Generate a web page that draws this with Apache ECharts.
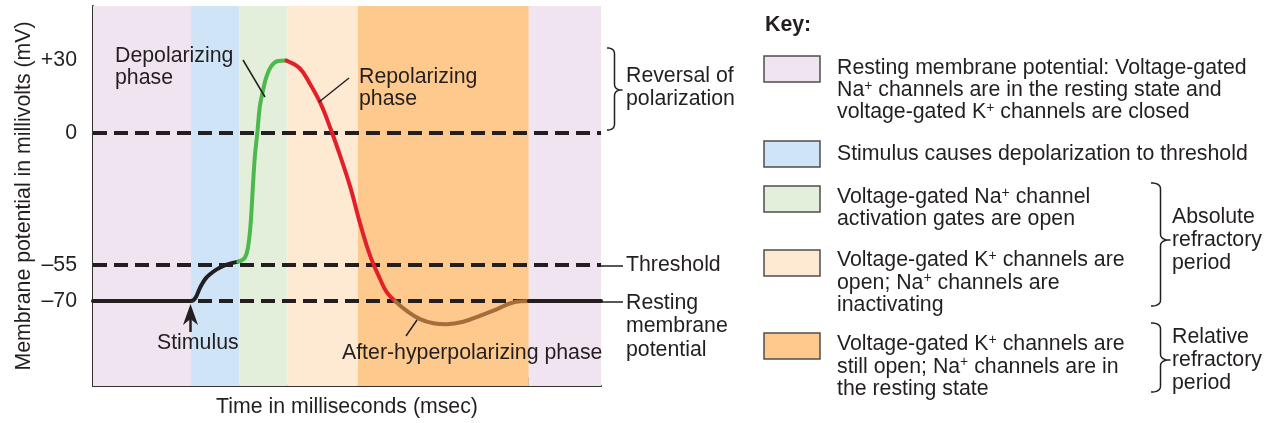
<!DOCTYPE html>
<html>
<head>
<meta charset="utf-8">
<script src="https://cdn.jsdelivr.net/npm/echarts@6.0.0/dist/echarts.min.js"></script>
<style>
html,body{margin:0;padding:0;background:#ffffff;}
#chart{width:1265px;height:423px;}
</style>
</head>
<body>
<div id="chart"></div>
<script>
// ---------------- DATA ----------------
// Y axis (membrane potential, mV)
const yTickValues = [30, 0, -55, -70];
const yTickLabels = ['+30', '0', '–55', '–70'];
const referenceLevels = [0, -55, -70];
// X axis (time, ms) tick positions
const xTickValues = [1, 3, 5];
// Phase bands (time edges) and which key entry each band belongs to
const bandEdges = [-0.25, 0.93, 1.51, 2.09, 2.94, 5.0, 5.87];
const bandPhase = [0, 1, 2, 3, 4, 0];
// Curve segments
const restT = [-0.25, 0.93, 0.98, 1.04, 1.10, 1.16, 1.24, 1.32, 1.40, 1.50];
const restV = [-70, -70, -68.9, -64.4, -60.9, -58.8, -56.8, -55.4, -54.4, -53.6];
const depolT = [1.50, 1.58, 1.62, 1.65, 1.674, 1.70, 1.73, 1.76, 1.80, 1.84, 1.90, 1.98, 2.08];
const depolV = [-53.6, -51.9, -47.1, -37.4, -23.6, -9.8, 0.1, 10.9, 17.8, 23.3, 27.8, 29.8, 30];
const repolT = [2.08, 2.24, 2.36, 2.49, 2.61, 2.73, 2.85, 2.97, 3.09, 3.21, 3.29, 3.39];
const repolV = [30, 26.8, 20.6, 12.3, 1.9, -9.8, -22.6, -38.0, -51.3, -60.9, -66.4, -70];
const hyperT = [3.39, 3.53, 3.69, 3.85, 4.01, 4.21, 4.41, 4.61, 4.81, 5.00];
const hyperV = [-70, -74.1, -77.5, -79.2, -79.6, -78.6, -76.1, -73.4, -70.6, -70];
const recoveryT = [5.00, 5.87];
const recoveryV = [-70, -70];
// Texts
const xAxisName = 'Time in milliseconds (msec)';
const yAxisName = 'Membrane potential in millivolts (mV)';
const keyTitle = 'Key:';
const keyTexts = [
  'Resting membrane potential: Voltage-gated\nNa{sup|+} channels are in the resting state and\nvoltage-gated K{sup|+} channels are closed',
  'Stimulus causes depolarization to threshold',
  'Voltage-gated Na{sup|+} channel\nactivation gates are open',
  'Voltage-gated K{sup|+} channels are\nopen; Na{sup|+} channels are\ninactivating',
  'Voltage-gated K{sup|+} channels are\nstill open; Na{sup|+} channels are in\nthe resting state'
];
const periodTexts = ['Absolute\nrefractory\nperiod', 'Relative\nrefractory\nperiod'];

// ---------------- STYLE ----------------
const FONT = '"Liberation Sans", Arial, Helvetica, sans-serif';
const FS = 21.3;
const INK = '#231f20';
const phaseColors = ['#EFE4F0', '#CFE5F7', '#E3EFDB', '#FEE9D2', '#FDC98C'];

const zip = (t, v) => t.map((x, i) => [x, v[i]]);

function curve(name, t, v, color) {
  return {
    name, type: 'line', data: zip(t, v), z: 5,
    symbol: 'none', showSymbol: false, smooth: 0.4,
    lineStyle: { color, width: 4, cap: 'round', join: 'round' },
    silent: true, animation: false
  };
}

const bandAreas = bandPhase.map((p, i) => [
  { xAxis: bandEdges[i], itemStyle: { color: phaseColors[p] } },
  { xAxis: bandEdges[i + 1] }
]);

function txt(x, y, text, extra) {
  return {
    type: 'text', x, y, silent: true, z: 10,
    style: Object.assign({
      text, fontSize: FS, fontFamily: FONT, fill: INK, lineHeight: 22,
      align: 'left', verticalAlign: 'top', textAlign: 'left', textVerticalAlign: 'top',
      rich: { sup: { fontSize: 14, fontFamily: FONT, fill: INK, verticalAlign: 'top', lineHeight: 12 } }
    }, extra || {})
  };
}
function seg(x1, y1, x2, y2, w) {
  return { type: 'line', silent: true, z: 10,
    shape: { x1, y1, x2, y2 }, style: { stroke: INK, lineWidth: w || 1.5 } };
}
// curly brace as a sampled polyline
function quad(p0, c, p1, n) {
  const out = [];
  for (let i = 1; i <= n; i++) {
    const t = i / n, a = (1 - t) * (1 - t), b = 2 * (1 - t) * t, d = t * t;
    out.push([a * p0[0] + b * c[0] + d * p1[0], a * p0[1] + b * c[1] + d * p1[1]]);
  }
  return out;
}
function brace(x0, yTop, yBot, yMid, w) {
  const xs = x0 + w * 0.5, xt = x0 + w, r = 6;
  let pts = [[x0, yTop]];
  pts = pts.concat(quad([x0, yTop], [xs, yTop], [xs, yTop + r], 8));
  pts.push([xs, yMid - r]);
  pts = pts.concat(quad([xs, yMid - r], [xs, yMid], [xt, yMid], 8));
  pts = pts.concat(quad([xt, yMid], [xs, yMid], [xs, yMid + r], 8));
  pts.push([xs, yBot - r]);
  pts = pts.concat(quad([xs, yBot - r], [xs, yBot], [x0, yBot], 8));
  return { type: 'polyline', silent: true, z: 10, shape: { points: pts },
    style: { stroke: INK, lineWidth: 1.5, fill: null, lineJoin: 'round' } };
}

const keyBoxTops = [56, 141, 186, 250, 333];
const keyTextTops = [57, 143, 186, 249, 333];

const graphics = [
  // chart annotations
  txt(115, 45, 'Depolarizing\nphase'),
  seg(243, 60, 265, 97),
  txt(359, 66, 'Repolarizing\nphase'),
  seg(349, 78, 319, 102),
  txt(157, 332, 'Stimulus'),
  seg(190.5, 332, 190.5, 314, 2.5),
  { type: 'polygon', silent: true, z: 10,
    shape: { points: [[190.5, 304], [198, 325], [190.5, 319], [183, 325]] },
    style: { fill: INK } },
  txt(342, 342, 'After-hyperpolarizing phase'),
  seg(406, 336, 417, 320),
  brace(607, 48, 130, 90, 15),
  txt(626, 65, 'Reversal of\npolarization', { lineHeight: 23 }),
  seg(601, 266, 623, 266),
  txt(626, 254, 'Threshold'),
  seg(601, 302, 623, 302),
  txt(626, 291, 'Resting\nmembrane\npotential', { lineHeight: 23.5 }),
  // key
  txt(765, 14, keyTitle, { fontWeight: 'bold' }),
  brace(1151, 183, 306, 240, 19),
  txt(1172, 206, periodTexts[0], { lineHeight: 23 }),
  brace(1151, 323, 392, 360, 19),
  txt(1172, 326, periodTexts[1], { lineHeight: 23 })
];
keyTexts.forEach((t, i) => {
  graphics.push({ type: 'rect', silent: true, z: 10,
    shape: { x: 764, y: keyBoxTops[i], width: 56, height: 26 },
    style: { fill: phaseColors[i], stroke: '#4d4d4d', lineWidth: 1.5 } });
  graphics.push(txt(837, keyTextTops[i], t, { lineHeight: i >= 3 ? 22.5 : 22 }));
});

const chart = echarts.init(document.getElementById('chart'), null, { renderer: 'canvas' });
chart.setOption({
  animation: false,
  backgroundColor: '#ffffff',
  textStyle: { fontFamily: FONT },
  grid: { left: 93, right: 664, top: 6, bottom: 36, containLabel: false },
  xAxis: {
    type: 'value', min: -0.25, max: 5.87,
    name: xAxisName, nameLocation: 'middle', nameGap: 11,
    nameTextStyle: { fontSize: FS, color: INK, fontFamily: FONT },
    axisLine: { show: true, onZero: false, lineStyle: { color: '#333', width: 2 } },
    axisTick: { show: true, inside: true, length: 9, customValues: xTickValues, lineStyle: { color: '#333', width: 1.5 } },
    axisLabel: { show: false },
    splitLine: { show: false }
  },
  yAxis: {
    type: 'value', min: -105.3, max: 52.7,
    name: yAxisName, nameLocation: 'middle', nameGap: 58,
    nameTextStyle: { fontSize: FS, color: INK, fontFamily: FONT },
    axisLine: { show: true, onZero: false, lineStyle: { color: '#333', width: 2 } },
    axisTick: { show: true, inside: true, length: 8, customValues: [yTickValues[0]], lineStyle: { color: INK, width: 1.5 } },
    axisLabel: {
      show: true, customValues: yTickValues, margin: 16,
      fontSize: FS, color: INK, fontFamily: FONT,
      formatter: v => yTickLabels[yTickValues.indexOf(v)] ?? ''
    },
    splitLine: { show: false }
  },
  series: [
    {
      name: 'phases', type: 'line', data: [], z: 1, silent: true,
      markArea: { silent: true, data: bandAreas },
      markLine: {
        silent: true, symbol: 'none', animation: false,
        label: { show: false },
        lineStyle: { type: [14, 7], width: 4, color: INK },
        data: referenceLevels.map(v => ({ yAxis: v }))
      }
    },
    curve('resting / stimulus', restT, restV, INK),
    curve('depolarizing', depolT, depolV, '#4DB84D'),
    curve('repolarizing', repolT, repolV, '#E2202A'),
    curve('after-hyperpolarizing', hyperT, hyperV, '#A46E3C'),
    curve('resting', recoveryT, recoveryV, INK)
  ],
  graphic: graphics
});
</script>
</body>
</html>
